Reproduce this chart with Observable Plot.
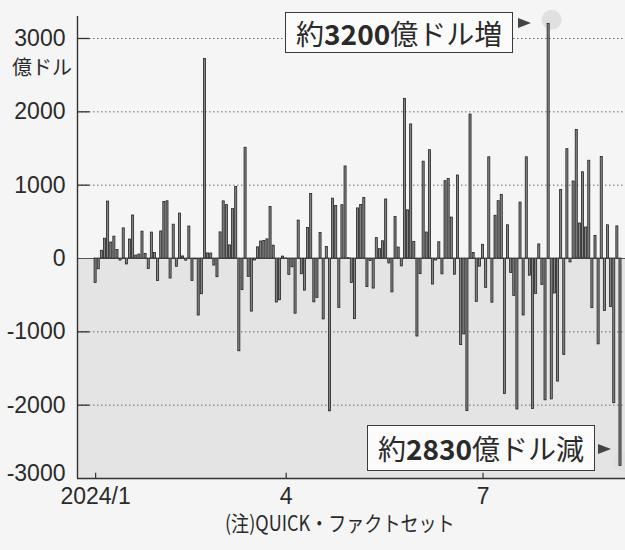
<!DOCTYPE html>
<html><head><meta charset="utf-8">
<script src="https://cdn.jsdelivr.net/npm/d3@7"></script>
<script src="https://cdn.jsdelivr.net/npm/@observablehq/plot@0.6"></script>
<style>
body{margin:0;background:#f5f5f5;}
#wrap{position:relative;width:625px;height:550px;overflow:hidden;}
.box{position:absolute;border:1.6px solid #3a3a3a;background:#fbfbfb;box-sizing:border-box;font-family:"Noto Sans CJK JP",sans-serif;font-size:28px;color:#2a2a2a;display:flex;align-items:center;justify-content:center;white-space:nowrap;line-height:1;}
.box b{font-weight:700;}
.tri{position:absolute;width:0;height:0;border-top:5px solid transparent;border-bottom:5px solid transparent;border-left:13px solid #444;}
.lab{position:absolute;font-family:"Noto Sans CJK JP",sans-serif;color:#2a2a2a;white-space:nowrap;}
</style></head>
<body><div id="wrap"></div>
<script>
// 2024 trading days (MM-DD)
const dates = [
"01-02","01-03","01-04","01-05","01-08","01-09","01-10","01-11","01-12","01-16","01-17","01-18","01-19","01-22","01-23","01-24","01-25","01-26","01-29","01-30","01-31",
"02-01","02-02","02-05","02-06","02-07","02-08","02-09","02-12","02-13","02-14","02-15","02-16","02-20","02-21","02-22","02-23","02-26","02-27","02-28","02-29",
"03-01","03-04","03-05","03-06","03-07","03-08","03-11","03-12","03-13","03-14","03-15","03-18","03-19","03-20","03-21","03-22","03-25","03-26","03-27","03-28",
"04-01","04-02","04-03","04-04","04-05","04-08","04-09","04-10","04-11","04-12","04-15","04-16","04-17","04-18","04-19","04-22","04-23","04-24","04-25","04-26","04-29","04-30",
"05-01","05-02","05-03","05-06","05-07","05-08","05-09","05-10","05-13","05-14","05-15","05-16","05-17","05-20","05-21","05-22","05-23","05-24","05-28","05-29","05-30","05-31",
"06-03","06-04","06-05","06-06","06-07","06-10","06-11","06-12","06-13","06-14","06-17","06-18","06-20","06-21","06-24","06-25","06-26","06-27","06-28",
"07-01","07-02","07-03","07-05","07-08","07-09","07-10","07-11","07-12","07-15","07-16","07-17","07-18","07-19","07-22","07-23","07-24","07-25","07-26","07-29","07-30","07-31",
"08-01","08-02","08-05","08-06","08-07","08-08","08-09","08-12","08-13","08-14","08-15","08-16","08-19","08-20","08-21","08-22","08-23","08-26","08-27","08-28","08-29","08-30",
"09-03"];
// daily change in market value (億ドル)
const values = [
-333,-147,106,270,776,218,298,116,-28,411,-81,259,586,40,54,366,63,-144,353,76,-307,
369,771,780,-273,461,-113,613,28,-30,436,-306,-11,-778,-487,2722,69,68,-96,-255,356,
779,728,179,673,976,-1265,-431,1510,-252,-724,-27,152,232,240,261,702,175,-600,-569,26,
2,-224,-120,-753,517,-215,-438,415,880,-598,-538,348,-831,156,-2084,816,715,-676,727,1255,5,-333,
-827,683,731,824,-390,-35,-410,278,128,235,805,-67,-462,566,149,-107,2177,657,1828,227,-1064,-213,
1320,354,1477,-355,-27,222,-216,1055,1085,558,-221,1132,-1181,-1036,-2081,1963,76,-593,-111,
187,-401,1380,-603,583,782,868,-1847,453,-197,-512,-2059,763,-777,1380,-234,-2052,-485,192,-362,-1934,3200,
-1921,-477,-1678,935,-1314,1491,-54,1050,1752,477,1176,423,1333,-677,308,-1171,1385,-716,453,-662,-1973,438,
-2830];
const yTicks = [3000,2000,1000,0,-1000,-2000,-3000];
const yTickLabels = ["3000","2000","1000","0","-1000","-2000","-3000"];
const xTickDates = ["01-02","04-01","07-01"];
const xTickLabels = ["2024/1","4","7"];
const unitLabel = "億ドル";
const noteDates = ["07-31","09-03"];
const notePre = ["約","約"];
const noteNum = ["3200","2830"];
const notePost = ["億ドル増","億ドル減"];
const caption = "(注)QUICK・ファクトセット";

const rows = dates.map((d,i)=>({i, date:d, value:values[i]}));
const xMin = -5.8, xMax = 169.6, yMin = -3000, yMax = 3300;
const sans = '"Liberation Sans",Arial,sans-serif';
const ink = "#2a2a2a";
const xTickIdx = xTickDates.map(d=>dates.indexOf(d));
const noteRows = noteDates.map(d=>({i:dates.indexOf(d), value:values[dates.indexOf(d)]}));

const plot = Plot.plot({
  width:625, height:510, marginLeft:77, marginRight:0, marginTop:16, marginBottom:32,
  style:{background:"transparent", overflow:"visible"},
  x:{type:"linear", domain:[xMin,xMax], axis:null},
  y:{domain:[yMin,yMax], axis:null},
  marks:[
    Plot.rect([0], {x1:()=>xMin, x2:()=>xMax, y1:()=>yMin, y2:()=>0, fill:"#e4e4e4"}),
    Plot.ruleY(yTicks.filter(v=>v!==0 && v!==yMin), {x1:()=>xMin, x2:()=>xMax, stroke:"#6a6a6a", strokeWidth:1, strokeDasharray:"1.5,2.5"}),
    Plot.ruleY(yTicks.filter(v=>v!==0 && v!==yMin), {x1:()=>xMin, x2:()=>xMin+4, stroke:"#333", strokeWidth:1.3}),
    Plot.dot(noteRows, {x:"i", y:"value", r:10, fill:"#e0e0e0", dx:3, dy:-4}),
    Plot.ruleY([0], {x1:()=>xMin, x2:()=>xMax, stroke:"#555", strokeWidth:1}),
    Plot.rect(rows, {x1:d=>d.i-0.33, x2:d=>d.i+0.33, y1:()=>0, y2:"value", fill:"#858585", stroke:"#222", strokeWidth:0.8}),
    Plot.ruleY([yMin], {x1:()=>xMin, x2:()=>xMax, stroke:"#333", strokeWidth:1.4}),
    Plot.ruleX([xMin], {y1:()=>yMin, y2:()=>yMax, stroke:"#333", strokeWidth:1.4}),
    Plot.ruleX(xTickIdx, {y1:()=>yMin, y2:()=>yMin+70, stroke:"#333", strokeWidth:1.2}),
    Plot.text(xTickIdx, {x:d=>d, y:()=>yMin, text:(d,i)=>xTickLabels[i], dy:18, fontSize:23, fontFamily:sans, fill:ink}),
    Plot.text(yTicks.slice(0,6), {x:()=>xMin, y:d=>d, text:(d,i)=>yTickLabels[i], textAnchor:"end", dx:-12, fontSize:23, fontFamily:sans, fill:ink}),
    Plot.text(yTicks.slice(6), {x:()=>xMin, y:d=>d, text:(d,i)=>yTickLabels[6+i], textAnchor:"end", dx:-12, dy:-5, fontSize:23, fontFamily:sans, fill:ink})
  ]
});
const wrap = document.getElementById("wrap");
wrap.appendChild(plot);
const sx = plot.scale("x"), sy = plot.scale("y");

// unit label under top tick
const u = document.createElement("div");
u.className = "lab";
u.style.cssText = `right:${625-72}px;top:${sy.apply(3000)+18}px;font-size:20px;line-height:22px;`;
u.textContent = unitLabel;
wrap.appendChild(u);

// annotations
const boxTopOff = [-11, -41], boxH = [41, 46], boxGap = [35, 25], triGap = [30, 22], triOff = [0, -17];
noteRows.forEach((r,k)=>{
  const bx = sx.apply(r.i), by = sy.apply(r.value);
  const b = document.createElement("div");
  b.className = "box";
  const right = bx - boxGap[k];
  b.style.left = (right-228)+"px"; b.style.width = "228px";
  b.style.top = (by+boxTopOff[k])+"px"; b.style.height = boxH[k]+"px";
  b.innerHTML = `${notePre[k]}<b>${noteNum[k]}</b>${notePost[k]}`;
  wrap.appendChild(b);
  const t = document.createElement("div");
  t.className = "tri";
  t.style.left = (bx-triGap[k])+"px";
  t.style.top = (by+triOff[k]-5)+"px";
  wrap.appendChild(t);
});

const c = document.createElement("div");
c.className = "lab";
c.style.cssText = "left:225px;top:511px;font-size:21px;line-height:22px;transform:scaleX(0.86);transform-origin:left center;";
c.textContent = caption;
wrap.appendChild(c);
</script></body></html>
